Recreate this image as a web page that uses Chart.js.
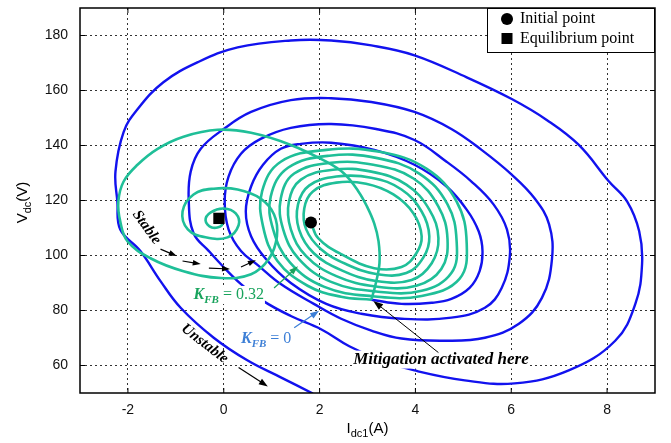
<!DOCTYPE html>
<html>
<head>
<meta charset="utf-8">
<script src="https://cdn.jsdelivr.net/npm/chart.js@4.4.1/dist/chart.umd.min.js"></script>
<style>
  html, body { margin: 0; padding: 0; background: #fff; }
  #wrap { width: 671px; height: 443px; }
</style>
</head>
<body>
<div id="wrap"><canvas id="phase" width="671" height="443"></canvas></div>
<script>
// axis ticks
const xTicks = [-2, 0, 2, 4, 6, 8];
const yTicks = [60, 80, 100, 120, 140, 160, 180];

// start and end states [Idc1, Vdc]
const initialPoint = [1.82, 112.0];
const equilibriumPoint = [-0.10, 113.5];

// slow outward spiral from the initial point up to the switching instant
const rings = [
  [1.82, 112.0], [1.97, 106.3], [2.45, 100.5], [3.14, 95.4], [3.71, 95.8], [4.02, 100.8], [4.13, 107.0],
  [3.96, 115.3], [3.54, 122.2], [2.97, 126.1], [2.35, 126.5], [1.86, 123.3], [1.68, 117.1],
  [1.72, 109.5], [2.03, 102.3], [2.55, 96.9], [3.18, 93.3], [3.81, 93.6], [4.17, 99.4], [4.29, 107.0],
  [4.13, 116.0], [3.71, 124.0], [3.08, 128.3], [2.35, 128.7], [1.78, 125.4], [1.55, 118.6],
  [1.57, 109.5], [1.88, 100.8], [2.45, 94.7], [3.18, 90.7], [3.92, 91.1], [4.34, 97.2], [4.48, 106.3],
  [4.29, 116.7], [3.81, 125.8], [3.08, 130.5], [2.28, 131.2], [1.61, 127.6], [1.36, 119.6],
  [1.40, 109.5], [1.72, 99.8], [2.35, 92.5], [3.18, 88.7], [4.02, 89.0], [4.54, 95.1], [4.67, 105.9],
  [4.48, 117.8], [3.96, 128.0], [3.12, 133.0], [2.24, 133.7], [1.47, 129.8], [1.19, 120.7],
  [1.24, 109.5], [1.57, 98.7], [2.24, 90.4], [3.18, 86.9], [4.13, 87.2], [4.75, 93.6], [4.86, 105.2],
  [4.67, 118.6], [4.08, 129.8], [3.18, 135.5], [2.20, 136.3], [1.34, 131.9], [0.98, 121.4],
  [1.03, 109.5], [1.38, 97.5], [2.10, 88.6], [3.10, 85.2], [4.13, 85.3], [4.92, 91.5], [5.07, 104.5],
  [4.86, 119.6], [4.23, 131.6], [3.25, 137.7], [2.14, 138.4], [1.19, 134.1], [0.80, 123.3],
  [0.82, 110.6], [1.12, 98.0], [1.75, 89.0], [2.45, 85.0], [3.08, 83.9]
];

// K_FB = 0.32 switched in: trajectory settles onto the equilibrium
const settle = [
  [3.08, 83.9], [3.16, 88.9], [3.25, 97.2], [3.23, 105.2], [3.14, 111.7], [2.99, 117.8], [2.81, 123.3],
  [2.51, 129.8], [2.14, 134.1], [1.40, 140.2], [0.57, 144.6], [-0.13, 145.7], [-0.84, 143.2],
  [-1.38, 138.8], [-1.80, 133.0], [-2.09, 126.9], [-2.20, 119.6], [-2.16, 112.4], [-2.01, 105.2],
  [-1.53, 99.0], [-0.84, 94.3], [-0.06, 91.8], [0.57, 93.2], [0.94, 98.7], [1.11, 107.0], [1.05, 114.9],
  [0.77, 120.7], [0.29, 124.0], [-0.21, 124.3], [-0.63, 122.2], [-0.86, 116.0], [-0.75, 109.5],
  [-0.38, 106.6], [0.08, 106.6], [0.31, 111.0], [0.25, 115.3], [0.00, 117.1], [-0.27, 115.7],
  [-0.38, 112.8], [-0.25, 110.2], [-0.04, 111.0], [-0.10, 113.5]
];

// K_FB = 0: oscillation keeps growing
const openLoop = [
  [3.08, 83.9], [3.71, 82.4], [4.34, 82.8], [4.75, 84.2], [5.13, 88.2], [5.34, 94.3], [5.40, 101.6],
  [5.32, 108.8], [5.07, 116.7], [4.65, 125.1], [3.98, 133.0], [3.14, 138.4], [2.24, 141.0], [1.61, 140.6],
  [1.19, 138.8], [0.82, 133.0], [0.57, 125.1], [0.46, 116.0], [0.57, 107.0], [0.88, 98.7], [1.40, 90.0],
  [2.14, 82.4], [2.87, 78.8],
  [3.71, 77.0], [4.75, 77.4], [5.45, 81.0], [5.80, 88.2], [5.97, 99.8], [5.91, 109.5], [5.63, 118.6],
  [5.17, 126.9], [4.65, 134.1], [3.98, 142.0], [3.18, 146.0], [2.24, 147.8], [1.40, 146.4], [0.77, 142.4],
  [0.36, 137.0], [0.10, 128.7], [0.02, 119.6], [0.10, 109.5], [0.36, 101.6], [0.71, 96.5], [1.19, 89.6],
  [1.88, 82.4], [2.45, 77.0], [3.08, 72.7],
  [3.71, 69.8], [4.61, 69.0], [5.45, 70.1], [6.16, 75.2], [6.64, 84.6], [6.85, 98.7], [6.79, 111.3],
  [6.49, 120.7], [6.01, 129.4], [5.38, 138.4], [4.75, 146.0], [3.98, 152.2], [3.08, 155.8], [2.24, 157.2],
  [1.40, 156.5], [0.57, 152.2], [0.00, 146.0], [-0.48, 138.8], [-0.69, 130.5], [-0.73, 119.6],
  [-0.63, 108.1], [-0.31, 101.6], [-0.02, 96.1], [0.36, 89.6], [0.82, 83.5], [1.40, 78.0], [2.03, 73.2],
  [2.62, 67.0], [3.29, 61.8],
  [3.98, 58.2], [5.03, 54.6], [6.07, 53.5], [7.20, 58.2], [8.17, 69.0], [8.59, 82.4], [8.73, 96.9],
  [8.67, 108.8], [8.42, 119.6], [8.04, 126.9], [7.41, 140.2], [6.74, 149.3], [6.01, 156.9], [5.07, 164.8],
  [3.98, 172.8], [3.08, 176.4], [2.24, 178.2], [1.40, 178.2], [0.29, 175.7], [-0.54, 170.3], [-1.26, 163.0],
  [-1.80, 153.2], [-2.09, 144.9], [-2.26, 130.5], [-2.22, 119.6], [-2.16, 109.5], [-1.74, 101.6],
  [-1.32, 90.7], [-0.90, 81.0], [-0.21, 70.1], [0.50, 61.8], [1.19, 55.7], [1.86, 49.8]
];

const GREEN = '#1fbf98';
const BLUE = '#1212ee';
const SERIF = '"Liberation Serif", "Times New Roman", serif';
const SANS = '"Liberation Sans", Arial, sans-serif';

const toXY = pts => pts.map(([x, y]) => ({ x, y }));

function arrow(ctx, x1, y1, x2, y2, color, head, lw) {
  const a = Math.atan2(y2 - y1, x2 - x1);
  const c = Math.cos(a), s = Math.sin(a);
  ctx.strokeStyle = color;
  ctx.fillStyle = color;
  ctx.lineWidth = lw;
  ctx.beginPath();
  ctx.moveTo(x1, y1);
  ctx.lineTo(x2 - head * 0.7 * c, y2 - head * 0.7 * s);
  ctx.stroke();
  ctx.beginPath();
  ctx.moveTo(x2, y2);
  ctx.lineTo(x2 - head * c + head * 0.35 * s, y2 - head * s - head * 0.35 * c);
  ctx.lineTo(x2 - head * c - head * 0.35 * s, y2 - head * s + head * 0.35 * c);
  ctx.closePath();
  ctx.fill();
}

// run of text pieces, each with its own font and baseline shift
function pieces(ctx, parts, x, y, draw) {
  let w = 0;
  parts.forEach(p => {
    ctx.font = p.font;
    if (draw) ctx.fillText(p.t, x + w, y + (p.dy || 0));
    w += ctx.measureText(p.t).width;
  });
  return w;
}

function kfb(value) {
  return [
    { t: 'K', font: `bold italic 16px ${SERIF}` },
    { t: 'FB', font: `bold italic 11px ${SERIF}`, dy: 4 },
    { t: ' = ' + value, font: `16px ${SERIF}` }
  ];
}

const annotate = {
  id: 'annotate',
  afterDatasetsDraw(chart) {
    const { ctx, chartArea: a, scales: { x, y } } = chart;
    const px = v => x.getPixelForValue(v);
    const py = v => y.getPixelForValue(v);
    ctx.save();
    ctx.textBaseline = 'alphabetic';

    // frame with inward tick marks
    ctx.strokeStyle = '#000';
    ctx.lineWidth = 1.5;
    ctx.strokeRect(a.left, a.top, a.right - a.left, a.bottom - a.top);
    ctx.lineWidth = 1;
    ctx.beginPath();
    xTicks.forEach(v => {
      ctx.moveTo(px(v), a.bottom); ctx.lineTo(px(v), a.bottom - 5);
      ctx.moveTo(px(v), a.top); ctx.lineTo(px(v), a.top + 5);
    });
    yTicks.forEach(v => {
      ctx.moveTo(a.left, py(v)); ctx.lineTo(a.left + 5, py(v));
      ctx.moveTo(a.right, py(v)); ctx.lineTo(a.right - 5, py(v));
    });
    ctx.stroke();

    // rotated curve labels
    const tilted = (text, at, deg) => {
      ctx.save();
      ctx.translate(px(at[0]), py(at[1]));
      ctx.rotate(deg * Math.PI / 180);
      ctx.font = `bold italic 15px ${SERIF}`;
      ctx.fillStyle = '#000';
      ctx.textAlign = 'center';
      ctx.textBaseline = 'middle';
      ctx.fillText(text, 0, 0);
      ctx.restore();
    };
    tilted('Stable', [-1.61, 110.2], 54);
    tilted('Unstable', [-0.40, 67.9], 37.6);

    [[-1.32, 102.3, -0.98, 99.8], [-0.86, 98.0, -0.48, 96.9], [-0.31, 95.4, 0.13, 95.1], [0.36, 95.8, 0.67, 98.3]]
      .forEach(s => arrow(ctx, px(s[0]), py(s[1]), px(s[2]), py(s[3]), '#000', 8, 1.2));
    arrow(ctx, px(0.31), py(59.3), px(0.92), py(52.4), '#000', 9, 1.2);

    // gain labels
    const label = (parts, at, color) => {
      const w = pieces(ctx, parts, 0, 0, false);
      const lx = px(at[0]), ly = py(at[1]);
      ctx.fillStyle = '#fff';
      ctx.fillRect(lx - 1, ly - 13, w + 2, 18);
      ctx.fillStyle = color;
      pieces(ctx, parts, lx, ly, true);
    };
    label(kfb('0.32'), [-0.63, 84.2], '#18a35c');
    arrow(ctx, px(1.05), py(88.2), px(1.55), py(96.1), '#18a35c', 9, 1.2);
    label(kfb('0'), [0.36, 68.3], '#3d7fd6');
    arrow(ctx, px(1.47), py(73.7), px(1.99), py(79.9), '#3d7fd6', 9, 1.2);

    label([{ t: 'Mitigation activated here', font: `bold italic 17px ${SERIF}` }], [2.70, 60.7], '#000');
    arrow(ctx, px(4.48), py(64.7), px(3.12), py(83.5), '#000', 10, 1);

    // legend box
    const lx = a.right - 168, ly = a.top;
    ctx.fillStyle = '#fff';
    ctx.fillRect(lx, ly, 168, 45);
    ctx.strokeStyle = '#000';
    ctx.lineWidth = 1;
    ctx.strokeRect(lx + 0.5, ly + 0.5, 167, 44);
    ctx.fillStyle = '#000';
    ctx.beginPath();
    ctx.arc(lx + 20, ly + 11, 6, 0, Math.PI * 2);
    ctx.fill();
    ctx.fillRect(lx + 14.5, ly + 25, 11, 11);
    ctx.font = `16px ${SERIF}`;
    ctx.textBaseline = 'middle';
    ctx.fillText('Initial point', lx + 33, ly + 11);
    ctx.fillText('Equilibrium point', lx + 33, ly + 31);

    // axis titles with subscripts
    ctx.textBaseline = 'alphabetic';
    const xTitle = [
      { t: 'I', font: `15px ${SANS}` },
      { t: 'dc1', font: `11px ${SANS}`, dy: 4 },
      { t: '(A)', font: `15px ${SANS}` }
    ];
    const xw = pieces(ctx, xTitle, 0, 0, false);
    pieces(ctx, xTitle, (a.left + a.right) / 2 - xw / 2, 433, true);

    const yTitle = [
      { t: 'V', font: `15px ${SANS}` },
      { t: 'dc', font: `11px ${SANS}`, dy: 4 },
      { t: '(V)', font: `15px ${SANS}` }
    ];
    const yw = pieces(ctx, yTitle, 0, 0, false);
    ctx.translate(27, (a.top + a.bottom) / 2 + 2);
    ctx.rotate(-Math.PI / 2);
    pieces(ctx, yTitle, -yw / 2, 0, true);
    ctx.restore();
  }
};

const axisCommon = {
  type: 'linear',
  grid: { color: '#333', lineWidth: 1, drawTicks: false },
  border: { display: false, dash: [2, 3] },
  ticks: { color: '#111', font: { family: SANS, size: 14 } }
};

// drop the half-label padding so the plot fills its box
const noEdgePadding = s => {
  s.paddingTop = 0; s.paddingBottom = 0; s.paddingLeft = 0; s.paddingRight = 0;
};

new Chart(document.getElementById('phase'), {
  type: 'scatter',
  data: {
    datasets: [
      { data: [{ x: initialPoint[0], y: initialPoint[1] }], pointStyle: 'circle', pointRadius: 6,
        backgroundColor: '#000', borderColor: '#000', borderWidth: 0, order: 0 },
      { data: [{ x: equilibriumPoint[0], y: equilibriumPoint[1] }], pointStyle: 'rect', pointRadius: 8,
        backgroundColor: '#000', borderColor: '#000', borderWidth: 0, order: 0 },
      { data: toXY(rings), showLine: true, borderColor: GREEN, borderWidth: 2.6, pointRadius: 0,
        tension: 0.4, order: 1 },
      { data: toXY(settle), showLine: true, borderColor: GREEN, borderWidth: 2.6, pointRadius: 0,
        tension: 0.4, order: 1 },
      { data: toXY(openLoop), showLine: true, borderColor: BLUE, borderWidth: 2.4, pointRadius: 0,
        tension: 0.4, order: 2 }
    ]
  },
  options: {
    responsive: false,
    animation: false,
    layout: { padding: { top: 5, right: 16, left: 0, bottom: 0 } },
    plugins: { legend: { display: false }, tooltip: { enabled: false } },
    scales: {
      x: {
        ...axisCommon,
        min: -3, max: 9,
        ticks: { ...axisCommon.ticks, padding: 9 },
        afterBuildTicks: s => { s.ticks = xTicks.map(value => ({ value })); },
        afterFit: s => { s.height = 50; noEdgePadding(s); }
      },
      y: {
        ...axisCommon,
        min: 50, max: 190,
        ticks: { ...axisCommon.ticks, padding: 12 },
        afterBuildTicks: s => { s.ticks = yTicks.map(value => ({ value })); },
        afterFit: s => { s.width = 80; noEdgePadding(s); }
      }
    }
  },
  plugins: [annotate]
});
</script>
</body>
</html>
